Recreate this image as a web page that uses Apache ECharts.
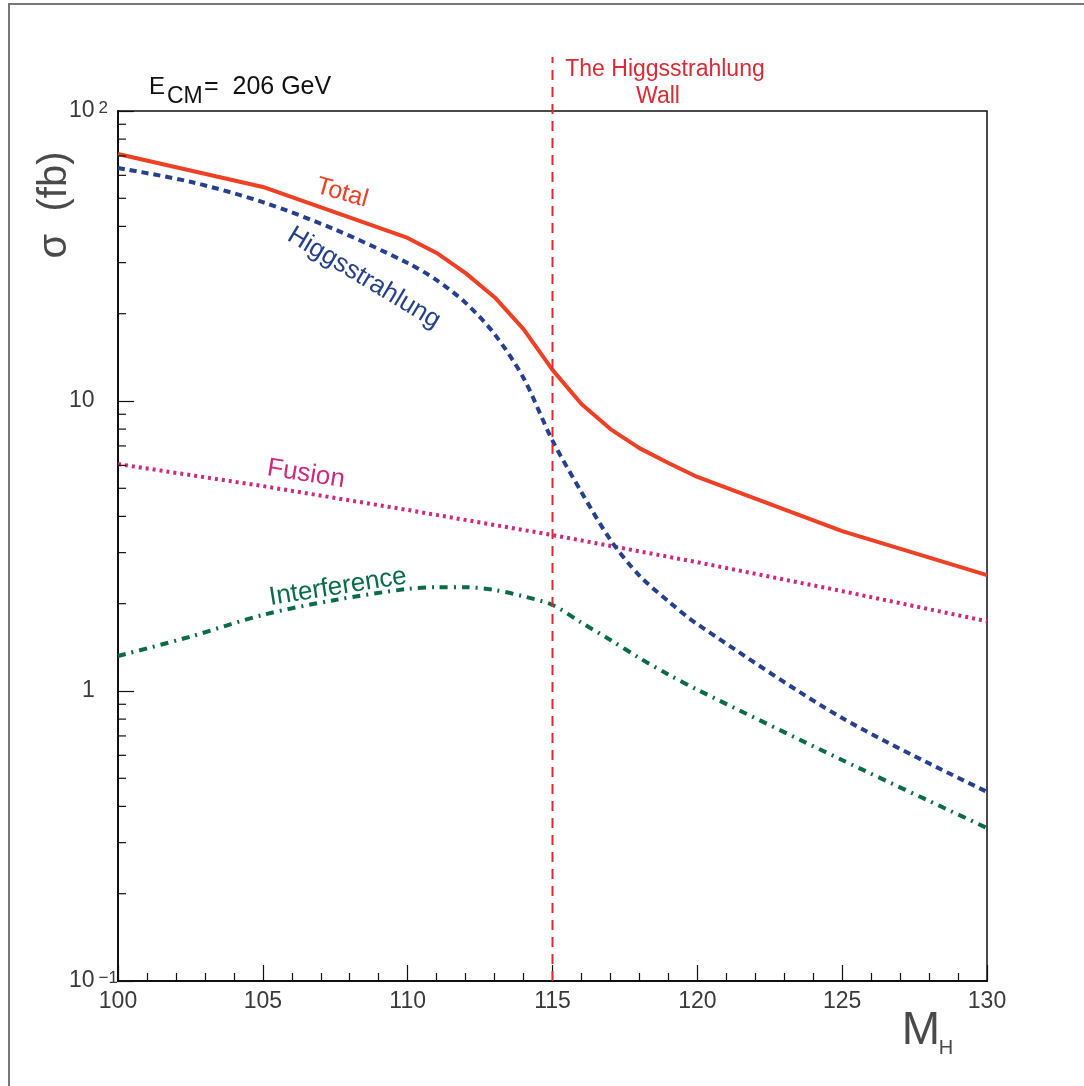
<!DOCTYPE html>
<html><head><meta charset="utf-8">
<script src="https://cdn.jsdelivr.net/npm/echarts@6/dist/echarts.min.js"></script>
<style>html,body{margin:0;padding:0;background:#fff}#c{width:1084px;height:1086px}</style>
</head><body><div id="c"></div>
<script>
// ---- data ----
const massTotal = [100, 105, 110, 111, 112, 113, 114, 115, 116, 117, 118, 119, 120, 125, 130];
const sigmaTotal = [71.1, 54.7, 36.5, 32.4, 27.6, 22.8, 17.7, 12.8, 9.77, 8.0, 6.88, 6.11, 5.47, 3.56, 2.51];

const massHiggs = [100, 102.5, 105, 107.5, 110, 111, 112, 113, 114, 115, 116, 117, 118, 119, 120, 125, 130];
const sigmaHiggs = [63.6, 57.0, 48.5, 39.0, 29.9, 26.1, 21.8, 17.0, 12.0, 7.3, 4.85, 3.32, 2.50, 2.04, 1.70, 0.807, 0.449];

const massFusion = [100, 105, 110, 115, 120, 125, 130];
const sigmaFusion = [6.06, 5.09, 4.21, 3.45, 2.78, 2.21, 1.74];

const massInterf = [100, 102.5, 105, 107.5, 110, 111, 112, 113, 114, 115, 116, 117, 118, 119, 120, 125, 130];
const sigmaInterf = [1.32, 1.54, 1.83, 2.06, 2.25, 2.28, 2.28, 2.23, 2.12, 1.98, 1.72, 1.50, 1.30, 1.14, 1.01, 0.578, 0.337];

const wallMass = [115];

const xTickValues = [100, 105, 110, 115, 120, 125, 130];
const yTickExponents = [-1, 0, 1, 2];
const yTickLabels = ['{b|10}{s|\u22121}', '{one|1}', '{b|10}', '{b|10}{s|2}'];
const yMinorTicks = [0.2, 0.3, 0.4, 0.5, 0.6, 0.7, 0.8, 0.9, 2, 3, 4, 5, 6, 7, 8, 9, 20, 30, 40, 50, 60, 70, 80, 90];

// ---- chart ----
const FONT = '"Liberation Sans", Arial, sans-serif';
const C_TOTAL = '#ee4024', C_HIGGS = '#27408e', C_FUSION = '#cc2a7c', C_INTERF = '#0a6b46', C_WALL = '#da2a34';
const C_AXTXT = '#3a3a3a';
const pairs = (xs, ys) => xs.map((x, i) => [x, ys[i]]);
const chart = echarts.init(document.getElementById('c'), null, {renderer: 'canvas'});

const txt = (text, x, y, size, color, rot, align) => ({
  type: 'text', x: x, y: y, rotation: (rot || 0) * Math.PI / 180, silent: true,
  style: {text: text, x: 0, y: 0, fill: color, fontFamily: FONT, fontSize: size, align: align || 'center', verticalAlign: 'middle'}
});

const option = {
  animation: false,
  backgroundColor: '#fff',
  grid: {left: 118, top: 111, right: 97, bottom: 105, show: true, borderColor: '#111', borderWidth: 1.5, backgroundColor: 'transparent'},
  xAxis: {
    type: 'value', min: 100, max: 130, interval: 5,
    axisLine: {show: true, lineStyle: {color: '#111', width: 2}},
    axisTick: {show: true, inside: true, length: 16, lineStyle: {color: '#111', width: 1.2}},
    minorTick: {show: true, splitNumber: 5, length: 8, lineStyle: {color: '#111', width: 1.2}},
    splitLine: {show: false},
    axisLabel: {fontFamily: FONT, fontSize: 23, color: C_AXTXT, margin: 9,
      formatter: v => xTickValues.indexOf(Math.round(v)) >= 0 ? String(Math.round(v)) : ''}
  },
  yAxis: {
    type: 'log', logBase: 10, min: 0.1, max: 100,
    axisLine: {show: true, lineStyle: {color: '#111', width: 2}},
    axisTick: {show: true, inside: true, length: 16, lineStyle: {color: '#111', width: 1.2}},
    minorTick: {show: false},
    splitLine: {show: false},
    axisLabel: {
      align: 'left', margin: 49,
      formatter: v => { const i = yTickExponents.indexOf(Math.round(Math.log10(v))); return i >= 0 ? yTickLabels[i] : ''; },
      rich: {
        b: {fontFamily: FONT, fontSize: 23, color: C_AXTXT, lineHeight: 23, verticalAlign: 'bottom'},
        s: {fontFamily: FONT, fontSize: 17, color: C_AXTXT, lineHeight: 17, verticalAlign: 'top', padding: [0, 0, 15, 4]},
        one: {fontFamily: FONT, fontSize: 23, color: C_AXTXT, lineHeight: 23, padding: [0, 0, 0, 13]}
      }
    }
  },
  series: [
    {name: 'Fusion', type: 'line', data: pairs(massFusion, sigmaFusion), showSymbol: false, z: 3,
      lineStyle: {color: C_FUSION, width: 4, type: [3, 4]}},
    {name: 'Interference', type: 'line', data: pairs(massInterf, sigmaInterf), showSymbol: false, smooth: 0.3, z: 3,
      lineStyle: {color: C_INTERF, width: 4, type: [8, 6, 2, 6]}},
    {name: 'Higgsstrahlung', type: 'line', data: pairs(massHiggs, sigmaHiggs), showSymbol: false, smooth: 0.3, z: 4,
      lineStyle: {color: C_HIGGS, width: 4, type: [7, 5]}},
    {name: 'Total', type: 'line', data: pairs(massTotal, sigmaTotal), showSymbol: false, z: 5,
      lineStyle: {color: C_TOTAL, width: 4, type: 'solid'}},
    {name: 'wall', type: 'custom', clip: false, silent: true, z: 6,
      data: wallMass.map(m => [m, 0.1]),
      renderItem: (params, api) => {
        const b = api.coord([api.value(0), 0.1]);
        const t = api.coord([api.value(0), 100]);
        return {type: 'line', shape: {x1: b[0], y1: b[1], x2: t[0], y2: t[1] - 54},
          style: {stroke: C_WALL, lineWidth: 2, lineDash: [10, 7]}};
      }},
    {name: 'yMinor', type: 'custom', clip: false, silent: true, z: 7,
      data: yMinorTicks.map(v => [100, v]),
      renderItem: (params, api) => {
        const p = api.coord([api.value(0), api.value(1)]);
        return {type: 'line', shape: {x1: p[0], y1: p[1], x2: p[0] + 8, y2: p[1]},
          style: {stroke: '#111', lineWidth: 1.2}};
      }}
  ],
  graphic: [
    {type: 'polyline', silent: true, shape: {points: [[9, 1086], [9, 4], [1084, 4]]}, style: {stroke: '#777', lineWidth: 2, fill: null}},
    txt('\u03c3  (fb)', 55, 205, 40, '#4a4a4a', 90),
    txt('M', 921, 1031, 46, '#4a4a4a', 0),
    txt('H', 946, 1048, 20, '#4a4a4a', 0),
    txt('E', 149, 87, 24, '#111', 0, 'left'),
    txt('CM', 167, 97, 23, '#111', 0, 'left'),
    txt('=  206 GeV', 204, 87, 25, '#111', 0, 'left'),
    txt('Total', 342, 193, 25, C_TOTAL, -16),
    txt('Higgsstrahlung', 364, 278, 26, C_HIGGS, -31),
    txt('Fusion', 306, 474, 26, C_FUSION, -9),
    txt('Interference', 338, 587, 26, C_INTERF, 9),
    txt('The Higgsstrahlung', 665, 70, 23, C_WALL, 0),
    txt('Wall', 658, 97, 23, C_WALL, 0)
  ]
};
chart.setOption(option);
</script>
</body></html>
